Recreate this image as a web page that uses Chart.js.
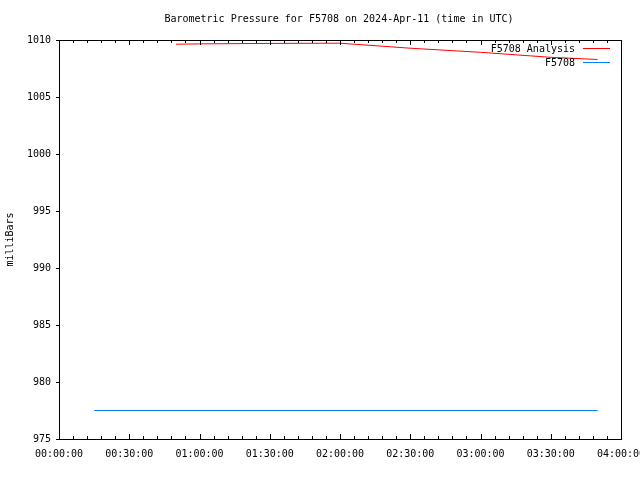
<!DOCTYPE html>
<html>
<head>
<meta charset="utf-8">
<script src="https://cdn.jsdelivr.net/npm/chart.js@4"></script>
<style>
  html, body { margin: 0; padding: 0; background: #fff; }
  #wrap { width: 640px; height: 480px; }
</style>
</head>
<body>
<div id="wrap"><canvas id="myChart" width="640" height="480"></canvas></div>
<script>
// data, x in minutes after 00:00 UTC
const analysisMinutes = [50, 60, 90, 120, 150, 180, 210, 230];
const analysisValues = [1009.63, 1009.66, 1009.70, 1009.72, 1009.28, 1008.92, 1008.48, 1008.29];
const obsMinutes = [15, 60, 120, 180, 230];
const obsValues = [977.5, 977.5, 977.5, 977.5, 977.5];
const xTickLabels = ['00:00:00', '00:30:00', '01:00:00', '01:30:00', '02:00:00',
  '02:30:00', '03:00:00', '03:30:00', '04:00:00'];
const yTicks = [975, 980, 985, 990, 995, 1000, 1005, 1010];
const titleText = 'Barometric Pressure for F5708 on 2024-Apr-11 (time in UTC)';

const FONT = { family: '"DejaVu Sans Mono", "Liberation Mono", monospace', size: 10 };

function toPoints(xs, ys) {
  return xs.map((x, i) => ({ x: x, y: ys[i] }));
}

// gnuplot style frame: title, border, small ticks, legend in the top right corner
const framePlugin = {
  id: 'frame',
  afterDraw(chart) {
    const ctx = chart.ctx;
    const a = chart.chartArea;
    const xs = chart.scales.x;
    const ys = chart.scales.y;
    ctx.save();
    ctx.strokeStyle = '#000';
    ctx.lineWidth = 1;
    ctx.strokeRect(Math.round(a.left) + 0.5, Math.round(a.top) + 0.5,
      Math.round(a.right - a.left), Math.round(a.bottom - a.top));
    ctx.beginPath();
    xs.ticks.forEach(t => {
      const px = Math.round(xs.getPixelForValue(t.value)) + 0.5;
      const len = t.value % 30 === 0 ? 5 : 3;
      ctx.moveTo(px, a.bottom);
      ctx.lineTo(px, a.bottom - len);
      ctx.moveTo(px, a.top);
      ctx.lineTo(px, a.top + len);
    });
    ys.ticks.forEach(t => {
      const py = Math.round(ys.getPixelForValue(t.value)) + 0.5;
      ctx.moveTo(a.left - 3, py);
      ctx.lineTo(a.left, py);
    });
    ctx.stroke();

    ctx.font = FONT.size + 'px ' + FONT.family;
    ctx.fillStyle = '#000';
    ctx.textBaseline = 'middle';

    // title, centred over the plot area
    ctx.textAlign = 'center';
    ctx.fillText(titleText, (a.left + a.right) / 2 - 1, 19);

    // legend
    ctx.textAlign = 'right';
    chart.data.datasets.forEach((ds, i) => {
      const y = Math.round(a.top + 8 + i * 14) + 0.5;
      ctx.fillText(ds.label, a.right - 46, y + 1);
      ctx.beginPath();
      ctx.strokeStyle = ds.borderColor;
      ctx.moveTo(a.right - 38, y);
      ctx.lineTo(a.right - 11, y);
      ctx.stroke();
    });
    ctx.restore();
  }
};

const ctx = document.getElementById('myChart').getContext('2d');
const chart = new Chart(ctx, {
  type: 'line',
  data: {
    datasets: [
      {
        label: 'F5708 Analysis',
        data: toPoints(analysisMinutes, analysisValues),
        borderColor: '#ff0000',
        borderWidth: 1,
        pointRadius: 0,
        fill: false,
        tension: 0
      },
      {
        label: 'F5708',
        data: toPoints(obsMinutes, obsValues),
        borderColor: '#0080ff',
        borderWidth: 1.2,
        pointRadius: 0,
        fill: false,
        tension: 0
      }
    ]
  },
  options: {
    responsive: false,
    animation: false,
    layout: { padding: { left: 0, right: 19, top: 40, bottom: 0 } },
    plugins: {
      legend: { display: false },
      tooltip: { enabled: false },
      title: { display: false }
    },
    scales: {
      x: {
        type: 'linear',
        min: 0,
        max: 240,
        grid: { display: false, drawTicks: false },
        border: { display: false },
        ticks: {
          stepSize: 6,
          autoSkip: false,
          maxRotation: 0,
          padding: 9,
          color: '#000',
          font: FONT,
          callback: v => (v % 30 === 0 ? xTickLabels[v / 30] : '')
        },
        afterFit: s => { s.height = 41; s.paddingLeft = 0; s.paddingRight = 0; }
      },
      y: {
        min: 975,
        max: 1010,
        grid: { display: false, drawTicks: false },
        border: { display: false },
        afterBuildTicks: s => { s.ticks = yTicks.map(v => ({ value: v })); },
        ticks: { padding: 8, color: '#000', font: FONT, callback: v => String(v) },
        title: {
          display: true,
          text: 'milliBars',
          color: '#000',
          font: FONT,
          padding: { top: 4, bottom: 0 }
        },
        afterFit: s => { s.width = 59; s.paddingTop = 0; s.paddingBottom = 0; }
      }
    }
  },
  plugins: [framePlugin]
});
</script>
</body>
</html>
